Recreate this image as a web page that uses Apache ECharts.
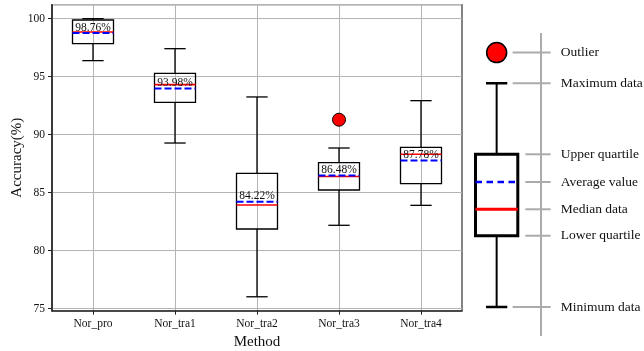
<!DOCTYPE html>
<html>
<head>
<meta charset="utf-8">
<script src="https://cdn.jsdelivr.net/npm/echarts@6/dist/echarts.min.js"></script>
<style>
  html, body { margin: 0; padding: 0; background: #fff; }
  #chart { width: 644px; height: 351px; }
</style>
</head>
<body>
<div id="chart"></div>
<script>
// Accuracy distribution per method (percent)
const methods      = ['Nor_pro', 'Nor_tra1', 'Nor_tra2', 'Nor_tra3', 'Nor_tra4'];
const whiskerLow   = [96.38, 89.28, 76.03, 82.19, 83.91];
const quartile1    = [97.84, 92.79, 81.87, 85.23, 85.78];
const medians      = [98.85, 94.31, 83.94, 86.40, 88.31];
const quartile3    = [99.88, 95.29, 86.67, 87.59, 88.91];
const whiskerHigh  = [100.00, 97.41, 93.25, 88.85, 92.93];
const means        = [98.76, 93.98, 84.22, 86.48, 87.78];
const outliers     = [['Nor_tra3', 91.29]];

// Explanatory key: a sample box on the same value scale
const keyOutlier   = 97.07;
const keyBox       = { low: 75.15, q1: 81.29, median: 83.57, q3: 88.31, high: 94.43, mean: 85.92 };
const keyLabels    = ['Outlier', 'Maximum data', 'Upper quartile', 'Average value', 'Median data', 'Lower quartile', 'Minimum data'];
const keyValues    = [keyOutlier, keyBox.high, keyBox.q3, keyBox.mean, keyBox.median, keyBox.q1, keyBox.low];
const keyInner     = [false, false, true, true, true, true, false];

const yMin = 74.83, yMax = 101.2;
const FONT = "'Liberation Serif', 'Times New Roman', serif";

const chart = echarts.init(document.getElementById('chart'), null, { renderer: 'canvas' });

function seg(x1, y1, x2, y2, stroke, lineWidth, lineDash) {
  return {
    type: 'line',
    shape: { x1, y1, x2, y2 },
    style: { stroke, lineWidth, lineDash: lineDash || null, fill: null }
  };
}

function boxRenderer(cfg) {
  return function (params, api) {
    const i = api.value(0);
    const band = api.size([1, 0])[0];
    const pt = k => api.coord([i, api.value(k)]);
    const cx = pt(1)[0];
    const yLow = pt(1)[1], yQ1 = pt(2)[1], yMed = pt(3)[1];
    const yQ3 = pt(4)[1], yHigh = pt(5)[1], yMean = pt(6)[1];
    const bw = band * cfg.boxRatio, cw = band * cfg.capRatio;
    const children = [
      seg(cx, yQ1, cx, yLow, '#000', cfg.whisker),
      seg(cx, yQ3, cx, yHigh, '#000', cfg.whisker),
      seg(cx - cw / 2, yLow, cx + cw / 2, yLow, '#000', cfg.cap),
      seg(cx - cw / 2, yHigh, cx + cw / 2, yHigh, '#000', cfg.cap),
      {
        type: 'rect',
        shape: { x: cx - bw / 2, y: yQ3, width: bw, height: yQ1 - yQ3 },
        style: { fill: null, stroke: '#000', lineWidth: cfg.box }
      },
      seg(cx - bw / 2, yMed, cx + bw / 2, yMed, '#ff0000', cfg.median),
      seg(cx - bw / 2, yMean, cx + bw / 2, yMean, '#0000ff', cfg.mean, cfg.dash)
    ];
    if (cfg.label) {
      children.push({
        type: 'text',
        style: {
          x: cx, y: yMean + 0.5,
          text: api.value(6).toFixed(2) + '%',
          align: 'center', verticalAlign: 'bottom',
          fontSize: 11.5, fontFamily: FONT, fill: '#111'
        }
      });
    }
    return { type: 'group', children };
  };
}

function keyRenderer(params, api) {
  const p = api.coord([0, api.value(1)]);
  const cx = p[0], y = p[1];
  const inner = api.value(2) === 1;
  return {
    type: 'group',
    children: [
      seg(cx + (inner ? 28.7 : 16), y, cx + 54, y, '#ababab', 2),
      {
        type: 'text',
        style: {
          x: cx + 64, y: y,
          text: keyLabels[params.dataIndex],
          align: 'left', verticalAlign: 'middle',
          fontSize: 13.5, fontFamily: FONT, fill: '#111'
        }
      }
    ]
  };
}

const boxData = methods.map((m, i) => [i, whiskerLow[i], quartile1[i], medians[i], quartile3[i], whiskerHigh[i], means[i]]);
const keyBoxData = [[0, keyBox.low, keyBox.q1, keyBox.median, keyBox.q3, keyBox.high, keyBox.mean]];
const keyData = keyValues.map((v, i) => [0, v, keyInner[i] ? 1 : 0]);

const axisText = { color: '#111', fontFamily: FONT, fontSize: 11.5 };

chart.setOption({
  animation: false,
  backgroundColor: '#fff',
  grid: [
    { left: 52, right: 182, top: 4.7, bottom: 40.3, show: true, borderColor: '#333', borderWidth: 1.2, backgroundColor: 'transparent', containLabel: false, outerBoundsMode: 'none' },
    { left: 474.3, width: 44.7, top: 4.7, bottom: 40.3, show: false, outerBoundsMode: 'none' }
  ],
  xAxis: [
    {
      type: 'category', gridIndex: 0, data: methods, boundaryGap: true,
      name: 'Method', nameLocation: 'middle', nameGap: 20,
      nameTextStyle: { color: '#111', fontFamily: FONT, fontSize: 15 },
      axisLine: { show: true, lineStyle: { color: '#222', width: 1.5 } },
      axisTick: { show: true, alignWithLabel: true, length: 4, lineStyle: { color: '#222', width: 1 } },
      axisLabel: Object.assign({ margin: 7 }, axisText),
      splitLine: { show: true, alignWithLabel: true, lineStyle: { color: '#b4b4b4', width: 1 } }
    },
    { type: 'category', gridIndex: 1, data: ['key'], show: false }
  ],
  yAxis: [
    {
      type: 'value', gridIndex: 0, min: yMin, max: yMax,
      name: 'Accuracy(%)', nameLocation: 'middle', nameGap: 27, nameRotate: 90,
      nameMoveOverlap: false,
      nameTextStyle: { color: '#111', fontFamily: FONT, fontSize: 15 },
      axisLine: { show: true, lineStyle: { color: '#222', width: 1.5 } },
      axisTick: { show: true, length: 4, lineStyle: { color: '#222', width: 1 } },
      axisLabel: Object.assign({
        margin: 7,
        showMinLabel: false, showMaxLabel: false,
        formatter: v => (Math.abs(v % 5) < 1e-6 ? String(v) : '')
      }, axisText),
      splitLine: { show: true, lineStyle: { color: '#b4b4b4', width: 1 } }
    },
    { type: 'value', gridIndex: 1, min: yMin, max: yMax, show: false, splitLine: { show: false } }
  ],
  graphic: [
    // vertical guide of the key
    { type: 'line', shape: { x1: 541, y1: 33, x2: 541, y2: 336 }, style: { stroke: '#ababab', lineWidth: 2 }, z: 1 }
  ],
  series: [
    {
      type: 'custom', name: 'Accuracy', xAxisIndex: 0, yAxisIndex: 0,
      data: boxData, encode: { x: 0, y: [1, 2, 3, 4, 5, 6] },
      renderItem: boxRenderer({ boxRatio: 0.5, capRatio: 0.26, whisker: 1.3, cap: 1.3, box: 1.3, median: 1.6, mean: 2, dash: [7, 3], label: true }),
      z: 3
    },
    {
      type: 'scatter', name: 'Outlier', xAxisIndex: 0, yAxisIndex: 0,
      data: outliers, symbol: 'circle', symbolSize: 13,
      itemStyle: { color: '#ff0000', borderColor: '#000', borderWidth: 1, opacity: 1 }, z: 4
    },
    {
      type: 'custom', name: 'KeyBox', xAxisIndex: 1, yAxisIndex: 1,
      data: keyBoxData, encode: { x: 0, y: [1, 2, 3, 4, 5, 6] },
      renderItem: boxRenderer({ boxRatio: 0.946, capRatio: 0.477, whisker: 2, cap: 2.5, box: 3, median: 3, mean: 2.7, dash: [6.5, 4.5], label: false }),
      z: 3
    },
    {
      type: 'scatter', name: 'KeyOutlier', xAxisIndex: 1, yAxisIndex: 1,
      data: [[0, keyOutlier]], symbol: 'circle', symbolSize: 20,
      itemStyle: { color: '#ff0000', borderColor: '#000', borderWidth: 1.5, opacity: 1 }, z: 4
    },
    {
      type: 'custom', name: 'KeyLabels', xAxisIndex: 1, yAxisIndex: 1,
      data: keyData, encode: { x: 0, y: 1 },
      renderItem: keyRenderer, z: 2
    }
  ]
});
</script>
</body>
</html>
